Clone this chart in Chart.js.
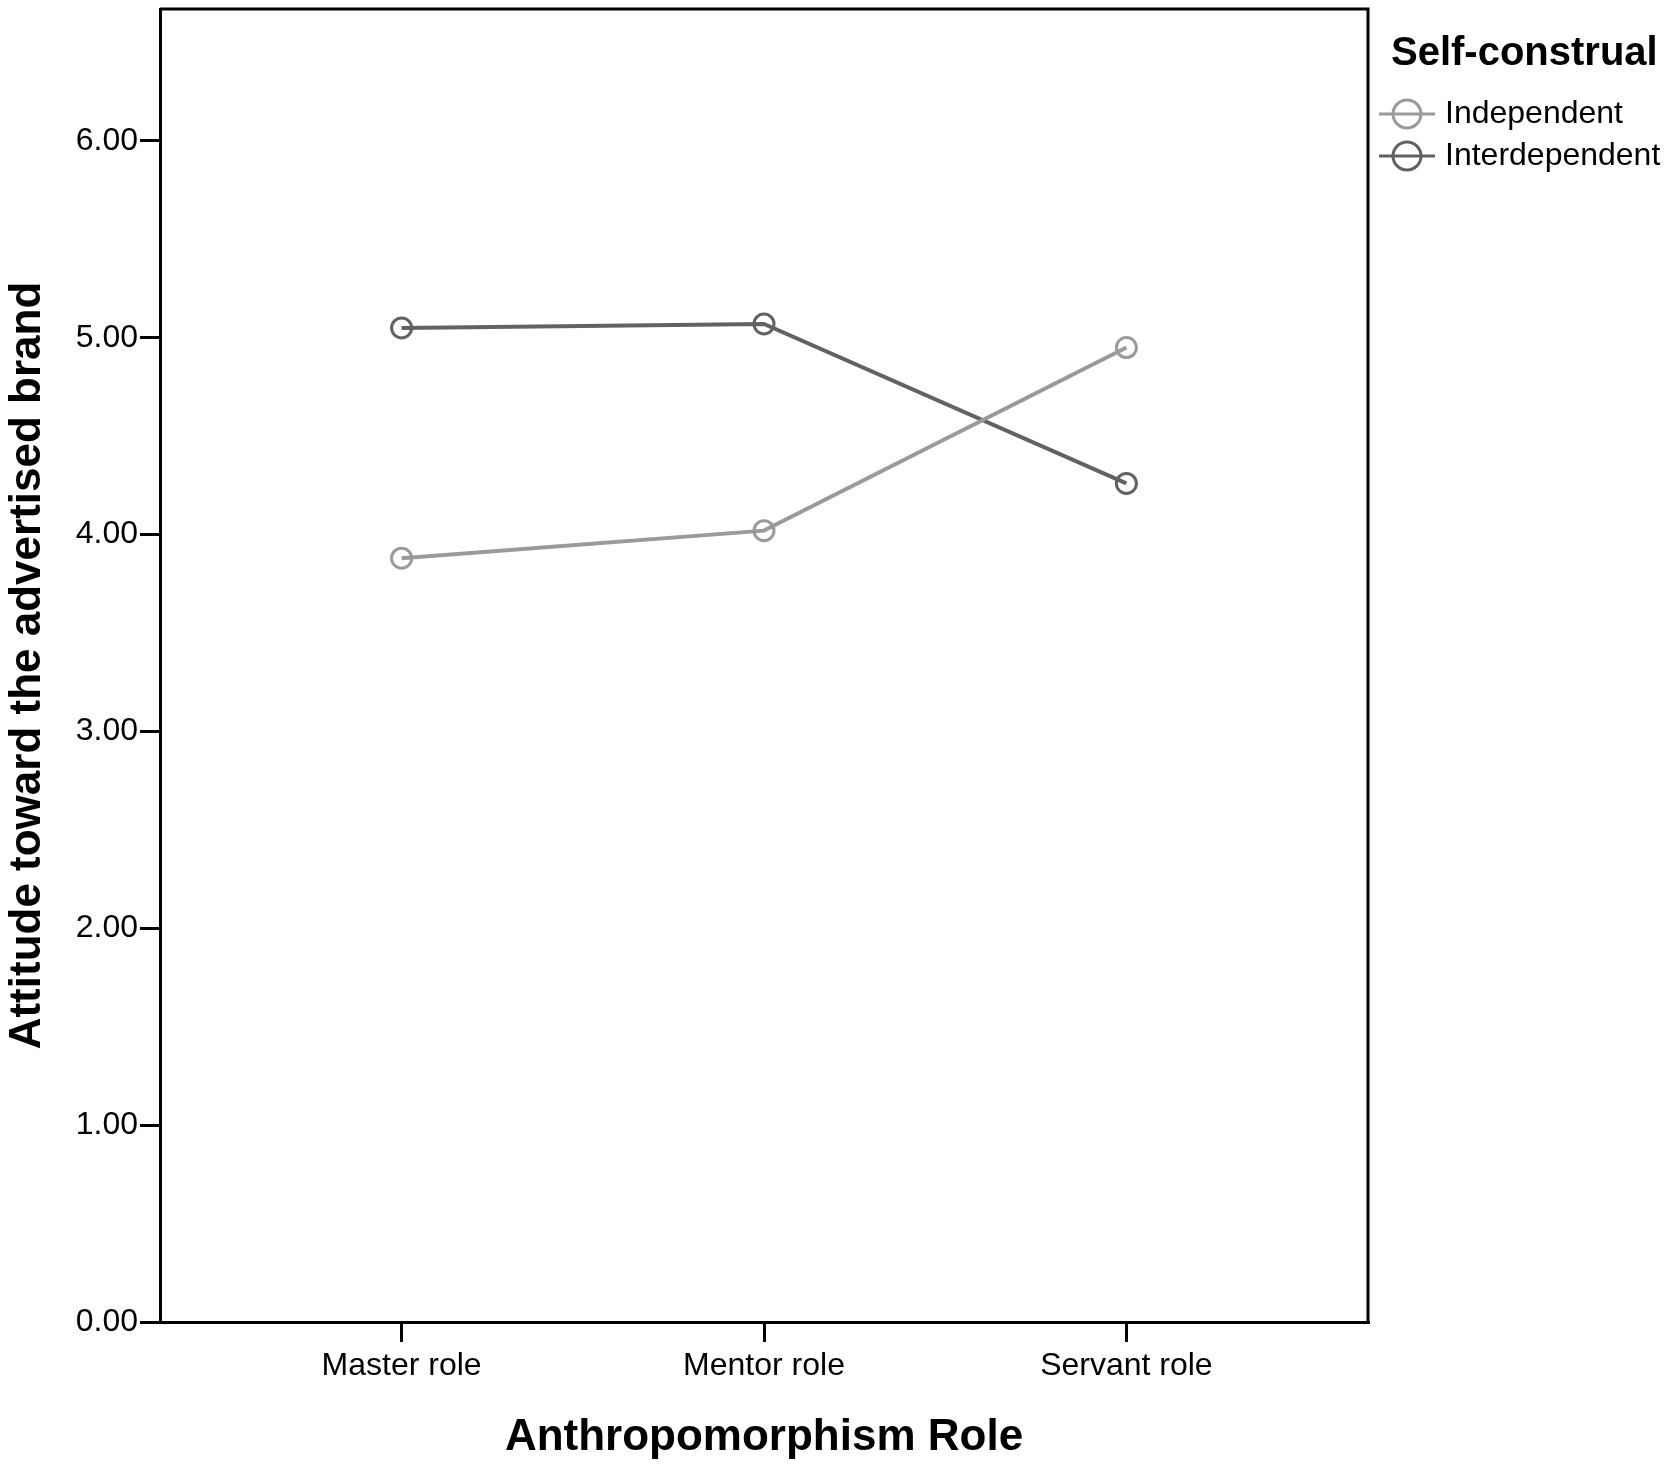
<!DOCTYPE html>
<html>
<head>
<meta charset="utf-8">
<script src="https://cdn.jsdelivr.net/npm/chart.js@4/dist/chart.umd.min.js"></script>
<style>
  html, body { margin: 0; padding: 0; background: #fff; }
  #wrap { width: 1669px; height: 1469px; }
</style>
</head>
<body>
<div id="wrap"><canvas id="plot" width="1669" height="1469"></canvas></div>
<script>
// =================== DATA ===================
const roles = ["Master role", "Mentor role", "Servant role"];
const independent = [3.88, 4.02, 4.95];
const interdependent = [5.05, 5.07, 4.26];
const yTicks = [0, 1, 2, 3, 4, 5, 6];
const seriesNames = ["Independent", "Interdependent"];
const legendTitle = "Self-construal";

const FONT = "'Liberation Sans', Arial, sans-serif";
Chart.defaults.font.family = FONT;
Chart.defaults.color = "#000";

const toPoints = arr => arr.map((v, i) => ({ x: i + 1, y: v }));

// frame on top/right + SPSS-like legend
const framePlugin = {
  id: "frame",
  afterDraw(chart) {
    const { ctx, chartArea: a } = chart;
    ctx.save();
    ctx.strokeStyle = "#000";
    ctx.lineWidth = 3;
    ctx.beginPath();
    ctx.moveTo(a.left, a.top);
    ctx.lineTo(a.right, a.top);
    ctx.lineTo(a.right, a.bottom);
    ctx.stroke();

    // legend
    ctx.fillStyle = "#000";
    ctx.font = "bold 40px " + FONT;
    ctx.textBaseline = "middle";
    ctx.textAlign = "left";
    ctx.fillText(legendTitle, 1391, 54);

    ctx.font = "32px " + FONT;
    chart.data.datasets.forEach((ds, i) => {
      const y = 114 + i * 42;
      ctx.strokeStyle = ds.borderColor;
      ctx.lineWidth = 3;
      ctx.beginPath();
      ctx.moveTo(1379, y);
      ctx.lineTo(1435, y);
      ctx.stroke();
      ctx.beginPath();
      ctx.arc(1407, y, 14, 0, Math.PI * 2);
      ctx.stroke();
      ctx.fillStyle = "#000";
      ctx.fillText(ds.label, 1445, y);
    });
    ctx.restore();
  }
};

new Chart(document.getElementById("plot"), {
  type: "line",
  data: {
    datasets: [
      {
        label: seriesNames[0],
        data: toPoints(independent),
        borderColor: "#9a9a9a",
        borderWidth: 4,
        pointRadius: 10,
        pointBorderWidth: 3,
        pointBackgroundColor: "rgba(0,0,0,0)",
        pointBorderColor: "#9a9a9a"
      },
      {
        label: seriesNames[1],
        data: toPoints(interdependent),
        borderColor: "#626262",
        borderWidth: 4,
        pointRadius: 10,
        pointBorderWidth: 3,
        pointBackgroundColor: "rgba(0,0,0,0)",
        pointBorderColor: "#626262"
      }
    ]
  },
  options: {
    responsive: false,
    animation: false,
    devicePixelRatio: 1,
    layout: { autoPadding: false, padding: { top: 9, right: 301, left: 0, bottom: 0 } },
    plugins: { legend: { display: false }, tooltip: { enabled: false } },
    scales: {
      x: {
        type: "linear",
        min: 1 / 3,
        max: 11 / 3,
        afterBuildTicks: s => { s.ticks = roles.map((r, i) => ({ value: i + 1 })); },
        afterFit: s => { s.height = 147; },
        ticks: {
          autoSkip: false,
          maxRotation: 0,
          padding: 5,
          font: { size: 32 },
          callback: v => roles[Math.round(v) - 1]
        },
        grid: { drawOnChartArea: false, drawTicks: true, tickLength: 20, color: "#000", lineWidth: 3 },
        border: { display: true, color: "#000", width: 3 },
        title: {
          display: true,
          text: "Anthropomorphism Role",
          font: { size: 44, weight: "bold", lineHeight: 1.2 },
          padding: { top: 0, bottom: 5 }
        }
      },
      y: {
        min: 0,
        max: 6.67,
        afterBuildTicks: s => { s.ticks = yTicks.map(v => ({ value: v })); },
        afterFit: s => { s.width = 160; s.paddingTop = 0; s.paddingBottom = 0; },
        ticks: {
          padding: 2,
          font: { size: 32 },
          callback: v => Number(v).toFixed(2)
        },
        grid: { drawOnChartArea: false, drawTicks: true, tickLength: 20, color: "#000", lineWidth: 3 },
        border: { display: true, color: "#000", width: 3 },
        title: {
          display: true,
          text: "Attitude toward the advertised brand",
          font: { size: 44, weight: "bold", lineHeight: 1.2 },
          padding: { top: 1, bottom: 0 }
        }
      }
    }
  },
  plugins: [framePlugin]
});
</script>
</body>
</html>
